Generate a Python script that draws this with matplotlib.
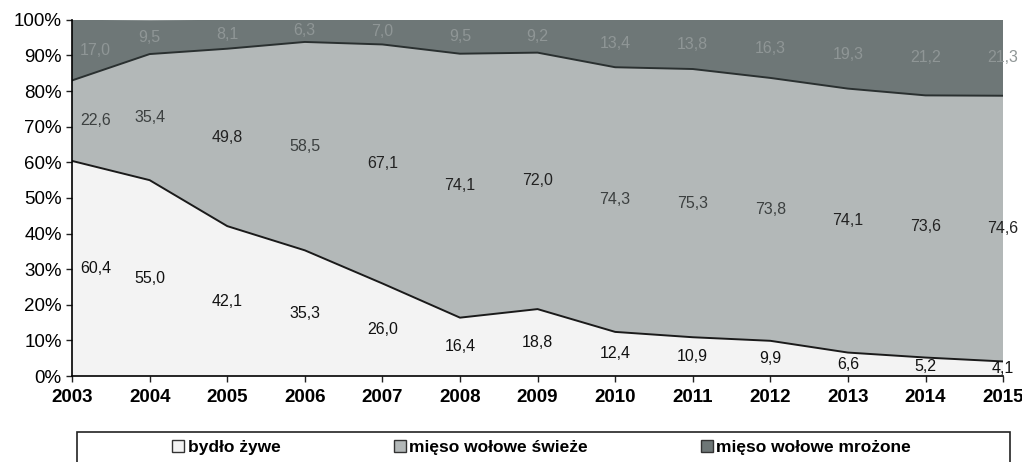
import matplotlib.pyplot as plt
import matplotlib.patches as mpatches

years = [2003, 2004, 2005, 2006, 2007, 2008, 2009, 2010, 2011, 2012, 2013, 2014, 2015]
bydlo = [60.4, 55.0, 42.1, 35.3, 26.0, 16.4, 18.8, 12.4, 10.9, 9.9, 6.6, 5.2, 4.1]
swieze = [22.6, 35.4, 49.8, 58.5, 67.1, 74.1, 72.0, 74.3, 75.3, 73.8, 74.1, 73.6, 74.6]
mrozone = [17.0, 9.5, 8.1, 6.3, 7.0, 9.5, 9.2, 13.4, 13.8, 16.3, 19.3, 21.2, 21.3]
labels = ['bydło żywe', 'mięso wołowe świeże', 'mięso wołowe mrożone']

plt.rcParams['font.family'] = ['Liberation Sans', 'DejaVu Sans']

fig = plt.figure(figsize=(10.22, 4.62), dpi=100)
ax = fig.add_axes([0.0705, 0.186, 0.911, 0.771])

colors = ['#f3f3f3', '#b3b8b8', '#6e7777']
ax.stackplot(years, bydlo, swieze, mrozone, colors=colors, labels=labels)

# boundary lines between the bands
low = bydlo
mid = [a + b for a, b in zip(bydlo, swieze)]
ax.plot(years, low, color='#1a1a1a', linewidth=1.4)
ax.plot(years, mid, color='#2a3030', linewidth=1.4)

def fmt(v):
    return f'{v:.1f}'.replace('.', ',')

for i, y in enumerate(years):
    x = y + 0.3 if i == 0 else y
    ax.text(x, bydlo[i] / 2, fmt(bydlo[i]), ha='center', va='center', fontsize=11.5, color='#111111')
    ax.text(x, bydlo[i] + swieze[i] / 2, fmt(swieze[i]), ha='center', va='center', fontsize=11.5,
            color='#222222' if i not in (0, 1, 3, 7, 8, 9) else '#3c4040')
    ax.text(x, mid[i] + mrozone[i] / 2, fmt(mrozone[i]), ha='center', va='center', fontsize=11.5,
            color='#8f9696')

ax.set_xlim(2003, 2015)
ax.set_ylim(0, 100)
ax.set_xticks(years)
ax.set_xticklabels([str(y) for y in years], fontsize=13.5, fontweight='bold')
ax.set_yticks(range(0, 101, 10))
ax.set_yticklabels([f'{v}%' for v in range(0, 101, 10)], fontsize=13.5)
ax.tick_params(axis='both', direction='out', length=4, width=1, color='#222222')
ax.tick_params(axis='x', pad=5)
for s in ['top', 'right']:
    ax.spines[s].set_visible(False)
ax.spines['left'].set_linewidth(1.2)
ax.spines['bottom'].set_linewidth(1.2)

# legend box
fig.patches.append(mpatches.Rectangle((0.075, -0.05), 0.913, 0.115, transform=fig.transFigure,
                                      fill=False, edgecolor='#222222', linewidth=1.2))
handles = [mpatches.Patch(facecolor=c, edgecolor='#333333', linewidth=1) for c in colors]
fig.legend(handles, labels, loc='center', bbox_to_anchor=(0.53, 0.032), ncol=3, frameon=False,
           handlelength=0.7, handleheight=0.7, handletextpad=0.2, columnspacing=6.5,
           prop={'weight': 'bold', 'size': 12.5})

fig.savefig('out.png', dpi=100)
